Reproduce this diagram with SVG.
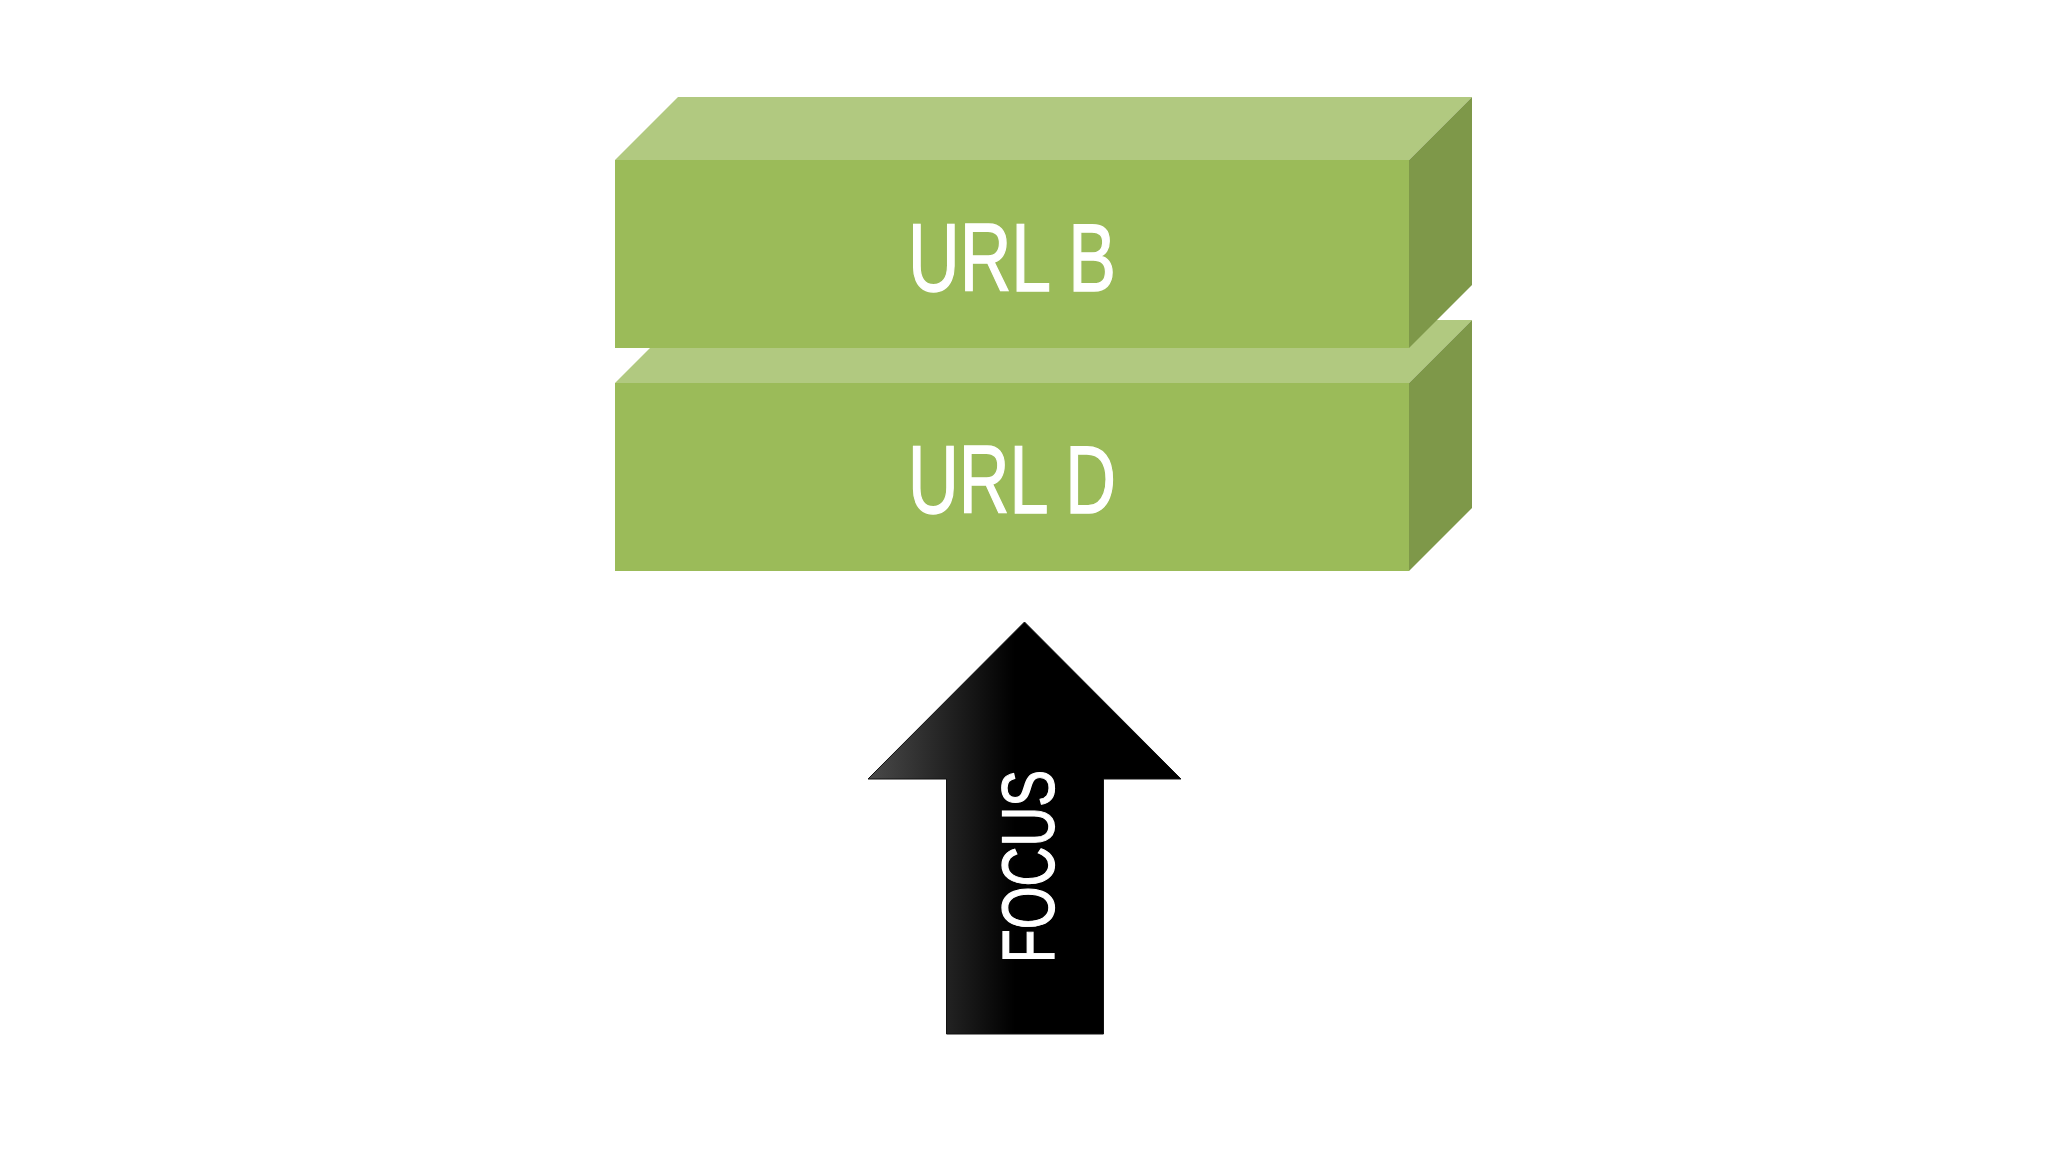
<svg xmlns="http://www.w3.org/2000/svg" width="2048" height="1152" viewBox="0 0 2048 1152">
  <style>
    .front { fill: #9BBB59; }
    .top { fill: #B1C980; }
    .side { fill: #7E9849; }
    .label { fill: #FFFFFF; stroke: #FFFFFF; stroke-width: 1.4px; font-family: "Liberation Sans", Arial, sans-serif; font-size: 96px; text-anchor: middle; }
    .focus { fill: #FFFFFF; stroke: #FFFFFF; stroke-width: 1.2px; font-family: "Liberation Sans", Arial, sans-serif; font-size: 75px; }
  </style>
  <defs>
    <linearGradient id="arrowGrad" gradientUnits="userSpaceOnUse" x1="868" y1="0" x2="1015" y2="0">
      <stop offset="0" stop-color="#4a4a4a"/>
      <stop offset="1" stop-color="#000000"/>
    </linearGradient>
  </defs>
  <rect width="2048" height="1152" fill="#FFFFFF"/>

  <g id="box-url-d">
    <polygon class="top" points="615,383 678,320 1472,320 1409,383"/>
    <polygon class="side" points="1409,383 1472,320 1472,508 1409,571"/>
    <rect class="front" x="615" y="383" width="794" height="188"/>
    <text class="label" x="1012" y="513" textLength="208" lengthAdjust="spacingAndGlyphs">URL D</text>
  </g>

  <g id="box-url-b">
    <polygon class="top" points="615,160 678,97 1472,97 1409,160"/>
    <polygon class="side" points="1409,160 1472,97 1472,285 1409,348"/>
    <rect class="front" x="615" y="160" width="794" height="188"/>
    <text class="label" x="1012" y="290.5" textLength="208" lengthAdjust="spacingAndGlyphs">URL B</text>
  </g>

  <g id="focus-arrow">
    <polygon points="1024.5,622 1181,779 1103.5,779 1103.5,1034 946.5,1034 946.5,779 868,779" fill="url(#arrowGrad)" stroke="#111" stroke-width="1"/>
    <text class="focus" transform="translate(1054,963) rotate(-90)" x="0" y="0" textLength="193" lengthAdjust="spacingAndGlyphs">FOCUS</text>
  </g>

  <g id="connectors"/>
</svg>
